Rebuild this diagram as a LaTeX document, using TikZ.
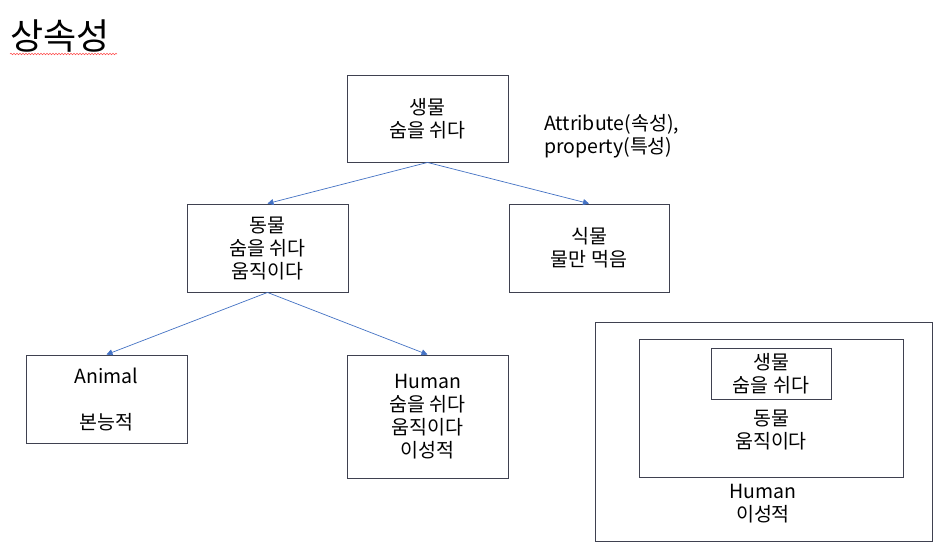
\documentclass[tikz,border=0pt]{standalone}
\usepackage{fontspec}
\setmainfont{Noto Sans CJK KR}
\usetikzlibrary{arrows.meta,decorations.pathmorphing}
\definecolor{boxline}{HTML}{3F4150}
\definecolor{arrowblue}{HTML}{4472C4}
\tikzset{
  box/.style={draw=boxline, line width=0.9pt, rectangle, inner sep=0pt, align=center,
    font=\fontsize{19.5}{23}\selectfont},
  plain/.style={inner sep=0pt, align=center, font=\fontsize{19.5}{23}\selectfont},
  arr/.style={draw=arrowblue, line width=0.7pt, -{Triangle[length=6pt,width=6pt]}}
}
\begin{document}
\begin{tikzpicture}[x=1pt,y=-1pt]
\fill[white] (0,0) rectangle (950,552);
\useasboundingbox (0,0) rectangle (950,552);
% title
\node[inner sep=0pt, anchor=west, font=\fontsize{36}{40}\selectfont] (title) at (10,36) {상속성};
\draw[red!70, line width=0.5pt, decorate, decoration={snake, amplitude=0.8pt, segment length=3pt}] (10,54) -- (117,54);
% tree
\node[box, minimum width=161, minimum height=87] (saeng) at (427.5,118.5) {생물\\숨을 쉬다};
\node[plain, anchor=west, align=left] (attr) at (544,136) {Attribute(속성),\\property(특성)};
\node[box, minimum width=161, minimum height=88] (dong) at (267.5,248) {동물\\숨을 쉬다\\움직이다};
\node[box, minimum width=160, minimum height=88] (sik) at (589,248) {식물\\물만 먹음};
\node[box, minimum width=161, minimum height=88] (animal) at (106.5,399) {Animal\\[23pt]본능적};
\node[box, minimum width=161, minimum height=123] (human) at (427.5,416.5) {Human\\숨을 쉬다\\움직이다\\이성적};
\draw[arr] (saeng.south) -- (dong.north);
\draw[arr] (saeng.south) -- (sik.north);
\draw[arr] (dong.south) -- (animal.north);
\draw[arr] (dong.south) -- (human.north);
% nested sets
\node[box, minimum width=337, minimum height=219] (outer) at (763.5,431.5) {};
\node[box, minimum width=264, minimum height=138] (middle) at (771,408) {};
\node[box, minimum width=120, minimum height=51] (inner) at (771,373.5) {생물\\숨을 쉬다};
\node[plain] (midtext) at (771,429.5) {동물\\움직이다};
\node[plain] (outtext) at (763,504) {Human\\이성적};
\end{tikzpicture}
\end{document}
